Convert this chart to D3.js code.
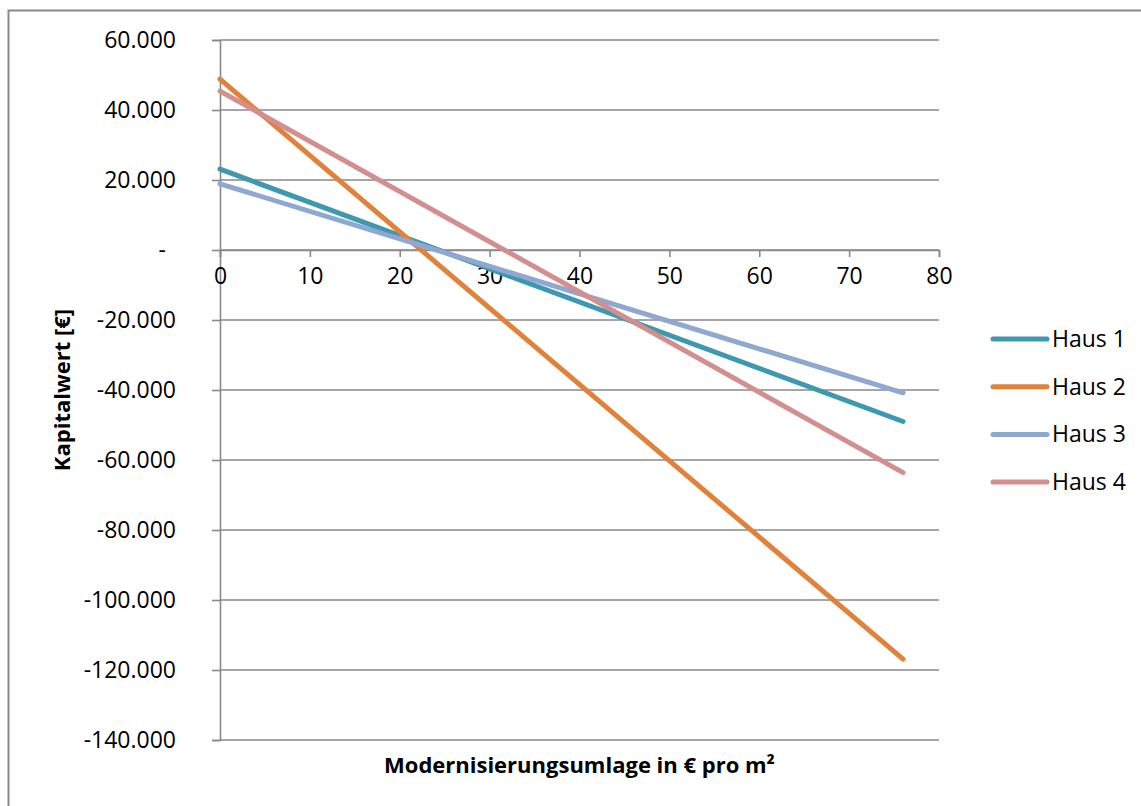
<!DOCTYPE html>
<html>
<head>
<meta charset="utf-8">
<script src="https://cdn.jsdelivr.net/npm/d3@7"></script>
<style>
  html, body { margin: 0; padding: 0; background: #fff; }
  svg { display: block; font-family: "Open Sans", "Liberation Sans", sans-serif; }
</style>
</head>
<body>
<svg id="chart" width="1141" height="806"></svg>
<script>
// Modernisierungsumlage (€/m²) at the start and end of the range
const umlage = [0, 76];

// Kapitalwert (€) per house at those Umlage values
const haus1 = [23100, -49000];
const haus2 = [48800, -116900];
const haus3 = [18900, -40800];
const haus4 = [45400, -63600];

const seriesNames = ["Haus 1", "Haus 2", "Haus 3", "Haus 4"];
const seriesColors = ["#3E98AF", "#E0823B", "#8EA8D2", "#D38F8E"];

const xTicks = [0, 10, 20, 30, 40, 50, 60, 70, 80];
const yTicks = [60000, 40000, 20000, 0, -20000, -40000, -60000, -80000, -100000, -120000, -140000];

const xTitle = "Modernisierungsumlage in € pro m²";
const yTitle = "Kapitalwert [€]";

const svg = d3.select("#chart");
const plot = { left: 220, right: 939, top: 40, bottom: 740 };

const x = d3.scaleLinear().domain([0, 80]).range([plot.left, plot.right]);
const y = d3.scaleLinear().domain([-140000, 60000]).range([plot.bottom, plot.top]);

const gridColor = "#898989";
const FONT = "'Open Sans', 'Liberation Sans', sans-serif";
// German thousands separator, plain hyphen for negatives, dash for zero
const fmt = v => v === 0 ? "-" : (v < 0 ? "-" : "") + d3.format(",")(Math.abs(v)).replace(/,/g, ".");

// outer chart frame
svg.append("rect")
  .attr("x", 8.5).attr("y", 10.5)
  .attr("width", 1200).attr("height", 900)
  .attr("fill", "none").attr("stroke", gridColor).attr("stroke-width", 2);

// horizontal gridlines
svg.append("g").selectAll("line").data(yTicks).join("line")
  .attr("x1", plot.left).attr("x2", plot.right)
  .attr("y1", d => y(d)).attr("y2", d => y(d))
  .attr("stroke", gridColor).attr("stroke-width", 1.6);

// y axis with outward ticks
const yAxis = svg.append("g")
  .attr("transform", `translate(${plot.left},0)`)
  .call(d3.axisLeft(y).tickValues(yTicks).tickFormat(fmt).tickSize(8).tickPadding(36))
  .attr("font-family", FONT).attr("font-size", 23);
yAxis.select(".domain").attr("stroke", gridColor).attr("stroke-width", 1.6);
yAxis.selectAll(".tick line").attr("stroke", gridColor).attr("stroke-width", 1.6);
yAxis.selectAll(".tick text")
  .attr("fill", "#000")
  .attr("dx", d => d === 0 ? -10 : 0);

// x axis through zero
const xAxis = svg.append("g")
  .attr("transform", `translate(0,${y(0)})`)
  .call(d3.axisBottom(x).tickValues(xTicks).tickFormat(d3.format("d")).tickSize(7).tickPadding(11))
  .attr("font-family", FONT).attr("font-size", 23);
xAxis.select(".domain").attr("stroke", gridColor).attr("stroke-width", 1.6);
xAxis.selectAll(".tick line").attr("stroke", gridColor).attr("stroke-width", 1.6);
xAxis.selectAll(".tick text").attr("fill", "#000");

// series lines
const allSeries = [haus1, haus2, haus3, haus4];
const line = d3.line().x((d, i) => x(umlage[i])).y(d => y(d));
svg.append("g").selectAll("path").data(allSeries).join("path")
  .attr("d", d => line(d))
  .attr("fill", "none")
  .attr("stroke", (d, i) => seriesColors[i])
  .attr("stroke-width", 5)
  .attr("stroke-linecap", "round");

// legend
const legend = svg.append("g").selectAll("g").data(seriesNames).join("g")
  .attr("transform", (d, i) => `translate(993,${339 + i * 47.7})`);
legend.append("line")
  .attr("x1", 0).attr("x2", 54).attr("y1", 0).attr("y2", 0)
  .attr("stroke", (d, i) => seriesColors[i])
  .attr("stroke-width", 5).attr("stroke-linecap", "round");
legend.append("text")
  .attr("x", 59).attr("y", 0).attr("dy", "0.35em")
  .attr("font-size", 23).text(d => d);

// axis titles
svg.append("text")
  .attr("x", (plot.left + plot.right) / 2).attr("y", 773)
  .attr("text-anchor", "middle").attr("font-size", 22).attr("font-weight", "bold")
  .text(xTitle);

svg.append("text")
  .attr("transform", `translate(70,${(plot.top + plot.bottom) / 2}) rotate(-90)`)
  .attr("text-anchor", "middle").attr("font-size", 22).attr("font-weight", "bold")
  .text(yTitle);
</script>
</body>
</html>
